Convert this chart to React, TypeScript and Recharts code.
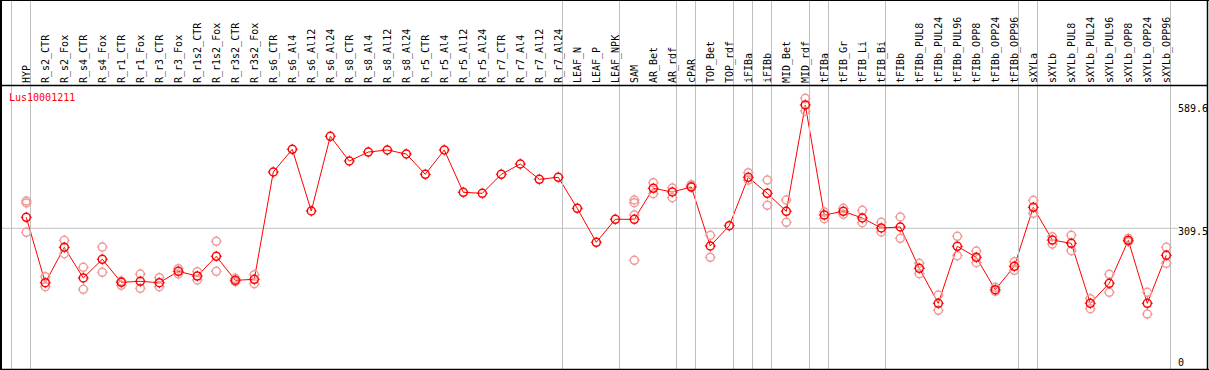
import React from "react";
import { ComposedChart, Line, Scatter, XAxis, YAxis, ReferenceLine } from "recharts";

const title = "Lus10001211";

const categories = [
  "HYP", "R_s2_CTR", "R_s2_Fox", "R_s4_CTR", "R_s4_Fox", "R_r1_CTR", "R_r1_Fox", "R_r3_CTR", "R_r3_Fox",
  "R_r1s2_CTR", "R_r1s2_Fox", "R_r3s2_CTR", "R_r3s2_Fox", "R_s6_CTR", "R_s6_Al4", "R_s6_Al12", "R_s6_Al24",
  "R_s8_CTR", "R_s8_Al4", "R_s8_Al12", "R_s8_Al24", "R_r5_CTR", "R_r5_Al4", "R_r5_Al12", "R_r5_Al24",
  "R_r7_CTR", "R_r7_Al4", "R_r7_Al12", "R_r7_Al24", "LEAF_N", "LEAF_P", "LEAF_NPK", "SAM", "AR_Bet", "AR_rdf",
  "cPAR", "TOP_Bet", "TOP_rdf", "iFIBa", "iFIBb", "MID_Bet", "MID_rdf", "tFIBa", "tFIB_Gr", "tFIB_Li", "tFIB_Bi",
  "tFIBb", "tFIBb_PUL8", "tFIBb_PUL24", "tFIBb_PUL96", "tFIBb_OPP8", "tFIBb_OPP24", "tFIBb_OPP96", "sXYLa",
  "sXYLb", "sXYLb_PUL8", "sXYLb_PUL24", "sXYLb_PUL96", "sXYLb_OPP8", "sXYLb_OPP24", "sXYLb_OPP96",
];

const means = [
  334.4, 185.8, 266.2, 196.5, 239.0, 186.7, 189.0, 185.8, 211.7, 201.0, 245.8, 191.3, 193.5,
  437.3, 488.9, 348.7, 518.4, 462.3, 482.7, 487.3, 478.2, 432.1, 487.3, 391.2, 388.9,
  432.1, 455.5, 420.7, 425.3, 354.8, 277.6, 329.9, 329.9, 400.3, 391.9, 403.2, 269.2,
  315.3, 425.3, 388.9, 348.0, 589.6, 339.6, 348.0, 332.8, 310.1, 312.4, 218.5, 139.0,
  268.5, 243.5, 169.9, 223.1, 357.1, 282.8, 275.3, 139.0, 184.5, 282.1, 139.0, 248.1,
];

const replicates: number[][] = [
  [371.4, 366.9, 300.3], [199.5, 176.7], [282.1, 251.7], [220.8, 170.8], [266.9, 209.4],
  [189.7, 179.9], [205.6, 173.1], [197.2, 176.7], [217.6, 205.6], [210.8, 192.0],
  [279.9, 211.7], [195.8, 188.1], [204.0, 183.6],
  [], [], [], [], [], [], [], [], [], [], [], [], [], [], [], [], [], [], [],
  [373.7, 367.6, 339.6, 236.7], [413.0, 388.0], [401.0, 378.9], [408.5, 405.5], [293.5, 243.5],
  [], [435.7, 419.1], [419.1, 361.7], [373.7, 323.0], [604.7, 575.9], [346.4, 331.2],
  [354.8, 341.2], [350.3, 322.1], [323.0, 301.0], [335.1, 286.7], [229.9, 206.3],
  [157.9, 123.1], [291.2, 247.2], [257.8, 231.3], [175.4, 166.3], [233.5, 214.0],
  [373.0, 343.5], [290.3, 273.7], [293.5, 258.5], [149.5, 126.8], [204.9, 164.0],
  [286.7, 279.0], [164.0, 114.7], [266.2, 229.9],
];

// group boundaries: a separator follows each of these category indices
const separatorsAfter = [-1, 0, 28, 31, 34, 35, 37, 38, 39, 41, 42, 45, 52, 53, 60];
const yTicks = [0, 309.5, 589.6];
const midLine = 309.5;

const X_DOMAIN: [number, number] = [-1.384, 62.195];
const Y_DOMAIN: [number, number] = [-10.2, 825.8];

const meanData = means.map((v, i) => ({ i, v }));
const repData = replicates.flatMap((arr, i) => arr.map((v) => ({ i, v })));
const sepData = separatorsAfter.map((s) => ({ i: s + 0.22, v: midLine }));

const FONT = "'DejaVu Sans Mono', monospace";
const RED = "#ff0000";
const PINK = "#f09a9a";
const GRID = "#c0c0c0";

const Marker = ({ cx, cy, color }: { cx: number; cy: number; color: string }) => {
  if (cx == null || cy == null) return null;
  return (
    <g>
      <circle cx={cx} cy={cy} r={4} fill="none" stroke={color} strokeWidth={1.5} />
      <line x1={cx} y1={cy - 5.5} x2={cx} y2={cy - 4} stroke={color} strokeWidth={1} />
      <line x1={cx} y1={cy + 4} x2={cx} y2={cy + 5.5} stroke={color} strokeWidth={1} />
      <line x1={cx - 5.5} y1={cy} x2={cx - 4} y2={cy} stroke={color} strokeWidth={1} />
      <line x1={cx + 4} y1={cy} x2={cx + 5.5} y2={cy} stroke={color} strokeWidth={1} />
    </g>
  );
};

const SepShape = (p: any) => {
  if (p.cx == null) return null;
  const x = Math.round(p.cx) + 0.5;
  return <line x1={x} y1={0} x2={x} y2={370} stroke={GRID} strokeWidth={1} />;
};

const XTick = (props: any) => {
  const { x, payload } = props;
  const tx = x + 3.5;
  const ty = 83;
  return (
    <text x={tx} y={ty} transform={`rotate(-90, ${tx}, ${ty})`} fontFamily={FONT} fontSize={10} fill="#000" textAnchor="start">
      {categories[payload.value]}
    </text>
  );
};

const YTick = (props: any) => {
  const { y, payload } = props;
  const dy = payload.value === 0 ? 1 : 7;
  return (
    <text x={1178} y={y + dy} fontFamily={FONT} fontSize={10} fill="#000" textAnchor="start">
      {payload.value === 0 ? "0" : payload.value.toFixed(1)}
    </text>
  );
};

export default function App() {
  return (
    <div style={{ position: "absolute", left: 0, top: 0, width: 1209, height: 370, background: "#fff" }}>
      <ComposedChart width={1209} height={370} margin={{ top: 0, right: 0, bottom: 1, left: 0 }}>
        <XAxis
          xAxisId="x"
          type="number"
          dataKey="i"
          orientation="top"
          height={1}
          domain={X_DOMAIN}
          allowDataOverflow
          ticks={categories.map((_, i) => i)}
          interval={0}
          tick={XTick}
          axisLine={false}
          tickLine={false}
        />
        <YAxis
          yAxisId="y"
          type="number"
          dataKey="v"
          orientation="right"
          width={1}
          domain={Y_DOMAIN}
          allowDataOverflow
          ticks={yTicks}
          interval={0}
          tick={YTick}
          axisLine={false}
          tickLine={false}
        />
        <ReferenceLine
          xAxisId="x"
          yAxisId="y"
          segment={[{ x: X_DOMAIN[0], y: midLine }, { x: 60.62, y: midLine }]}
          ifOverflow="visible"
          stroke={GRID}
          strokeWidth={1}
        />
        <Scatter
          xAxisId="x"
          yAxisId="y"
          data={sepData}
          dataKey="v"
          isAnimationActive={false}
          shape={SepShape}
        />
        <Scatter
          xAxisId="x"
          yAxisId="y"
          data={repData}
          dataKey="v"
          isAnimationActive={false}
          shape={(p: any) => <Marker cx={p.cx} cy={p.cy} color={PINK} />}
        />
        <Line
          xAxisId="x"
          yAxisId="y"
          data={meanData}
          dataKey="v"
          stroke={RED}
          strokeWidth={1}
          isAnimationActive={false}
          dot={(p: any) => <Marker key={p.index} cx={p.cx} cy={p.cy} color={RED} />}
          activeDot={false}
        />
      </ComposedChart>
      <svg width={1209} height={370} style={{ position: "absolute", left: 0, top: 0, pointerEvents: "none" }}>
        <line x1={0} y1={0.5} x2={1209} y2={0.5} stroke="#000" strokeWidth={1} />
        <line x1={0} y1={85.5} x2={1208} y2={85.5} stroke="#000" strokeWidth={1.5} />
        <line x1={1} y1={0} x2={1} y2={370} stroke="#000" strokeWidth={2} />
        <line x1={1207.5} y1={0} x2={1207.5} y2={370} stroke="#000" strokeWidth={1.5} />
        <line x1={0} y1={369.5} x2={1209} y2={369.5} stroke="#000" strokeWidth={1.5} />
        <text x={9} y={101} fontFamily={FONT} fontSize={10} fill={RED}>
          {title}
        </text>
      </svg>
    </div>
  );
}
